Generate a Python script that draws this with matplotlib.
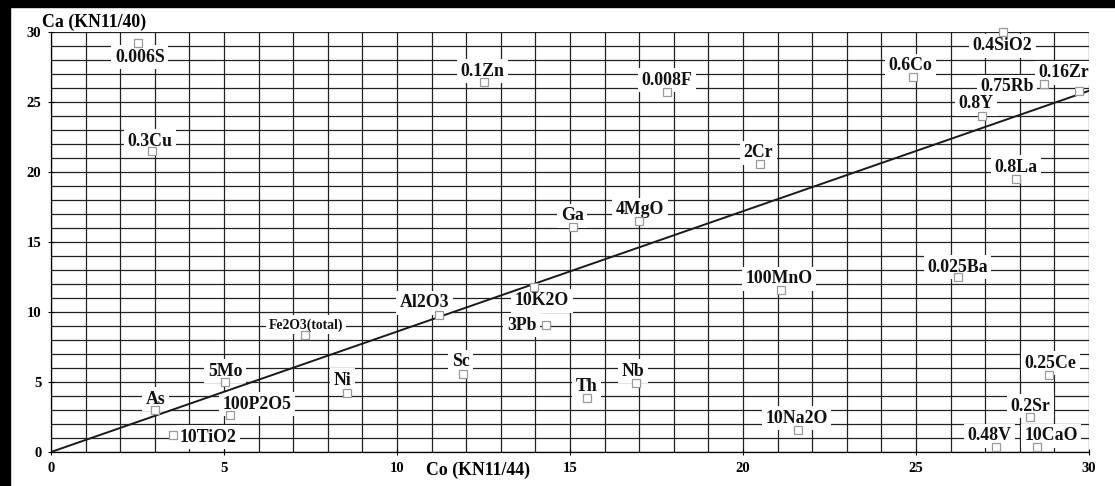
import matplotlib
matplotlib.use("Agg")
import matplotlib.pyplot as plt
from matplotlib.patches import Rectangle
from matplotlib.ticker import MultipleLocator

# scaled element contents, Co (KN11/44) vs Ca (KN11/40)
elements = ["0.006S", "0.3Cu", "As", "5Mo", "100P2O5", "10TiO2", "Fe2O3(total)",
            "Al2O3", "Ni", "Sc", "10K2O", "3Pb", "100MnO", "Th", "Nb", "10Na2O",
            "0.025Ba", "0.25Ce", "0.2Sr", "0.48V", "10CaO", "0.4SiO2", "0.6Co",
            "0.75Rb", "0.16Zr", "0.8Y", "0.8La", "0.1Zn", "0.008F", "2Cr", "Ga", "4MgO"]
co = [2.51, 2.92, 3.0, 5.03, 5.17, 3.53, 7.34,
      11.2, 8.55, 11.9, 13.96, 14.3, 21.1, 15.5, 16.9, 21.6,
      26.2, 28.85, 28.3, 27.3, 28.5, 27.5, 24.9,
      28.7, 29.7, 26.9, 27.9, 12.5, 17.8, 20.5, 15.1, 17.0]
ca = [29.2, 21.5, 3.0, 5.0, 2.64, 1.2, 8.36,
      9.8, 4.2, 5.6, 11.8, 9.07, 11.6, 3.86, 4.9, 1.57,
      12.5, 5.5, 2.5, 0.36, 0.36, 30.0, 26.8,
      26.3, 25.8, 24.0, 19.5, 26.4, 25.7, 20.6, 16.1, 16.5]

# isocon through the origin
isocon_x = [0, 30]
isocon_y = [0, 25.8]

# label offsets from each marker (pixels)
offsets = {
    "0.006S": (2, -14), "0.3Cu": (-2, 10), "As": (1, 11), "5Mo": (0, 11),
    "100P2O5": (27, 11), "10TiO2": (35, -2), "Fe2O3(total)": (1, 10),
    "Al2O3": (-14, 12), "Ni": (-4, 13), "Sc": (-2, 12), "10K2O": (8, -14),
    "3Pb": (-24, 0), "100MnO": (-2, 11), "Th": (-1, 11), "Nb": (-3, 12),
    "10Na2O": (-2, 12), "0.025Ba": (0, 10), "0.25Ce": (1, 12), "0.2Sr": (0, 11),
    "0.48V": (-6, 11), "10CaO": (14, 11), "0.4SiO2": (0, -14), "0.6Co": (-2, 11),
    "0.75Rb": (-37, -3), "0.16Zr": (-15, 18), "0.8Y": (-6, 12), "0.8La": (0, 12),
    "0.1Zn": (-1, 11), "0.008F": (0, 12), "2Cr": (-2, 11), "Ga": (-1, 11),
    "4MgO": (1, 11),
}

serif = "Liberation Serif"

fig = plt.figure(figsize=(11.15, 4.86), dpi=100)
ax = fig.add_axes([51 / 1115, 34 / 486, 1038 / 1115, 420 / 486])

ax.set_xlim(0, 30)
ax.set_ylim(0, 30)
ax.xaxis.set_major_locator(MultipleLocator(5))
ax.yaxis.set_major_locator(MultipleLocator(5))
ax.xaxis.set_minor_locator(MultipleLocator(1))
ax.yaxis.set_minor_locator(MultipleLocator(1))
ax.grid(which="both", color="#222222", lw=0.9, zorder=0)
ax.set_axisbelow(True)
ax.tick_params(which="minor", length=0)
ax.tick_params(which="major", length=4, width=0.8, direction="inout", pad=5,
               labelsize=10.5)
for lbl in ax.get_xticklabels() + ax.get_yticklabels():
    lbl.set_fontfamily(serif)
    lbl.set_fontweight("bold")
for side in ["top", "right"]:
    ax.spines[side].set_visible(False)
for side in ["left", "bottom"]:
    ax.spines[side].set_linewidth(0.9)

ax.plot(isocon_x, isocon_y, color="#1a1a1a", lw=1.4, zorder=4)

for name, x, y in zip(elements, co, ca):
    dx, dy = offsets[name]
    size = 9.8 if name == "Fe2O3(total)" else 12.8
    ax.annotate(name, (x, y), xytext=(dx, dy), textcoords="offset pixels",
                ha="center", va="center", fontsize=size, fontfamily=serif,
                fontweight="bold", color="#111111", zorder=3,
                bbox=dict(boxstyle="square,pad=0.2", fc="white", ec="none"))

ax.plot(co, ca, ls="none", marker="s", ms=6, mfc="white", mec="#999999",
        mew=0.9, zorder=5, clip_on=False)

ax.text(-0.009, 1.003, "Ca (KN11/40)", transform=ax.transAxes, ha="left",
        va="bottom", fontsize=12.8, fontfamily=serif, fontweight="bold")
ax.text(0.411, -0.022, "Co (KN11/44)", transform=ax.transAxes, ha="center",
        va="top", fontsize=12.8, fontfamily=serif, fontweight="bold")

# black frame strips along the left and top edges
fig.patches.append(Rectangle((0, 0), 10 / 1115, 1, transform=fig.transFigure,
                             color="black", zorder=10))
fig.patches.append(Rectangle((0, 1 - 7 / 486), 1, 7 / 486,
                             transform=fig.transFigure, color="black", zorder=10))

fig.savefig("out.png", dpi=100)
